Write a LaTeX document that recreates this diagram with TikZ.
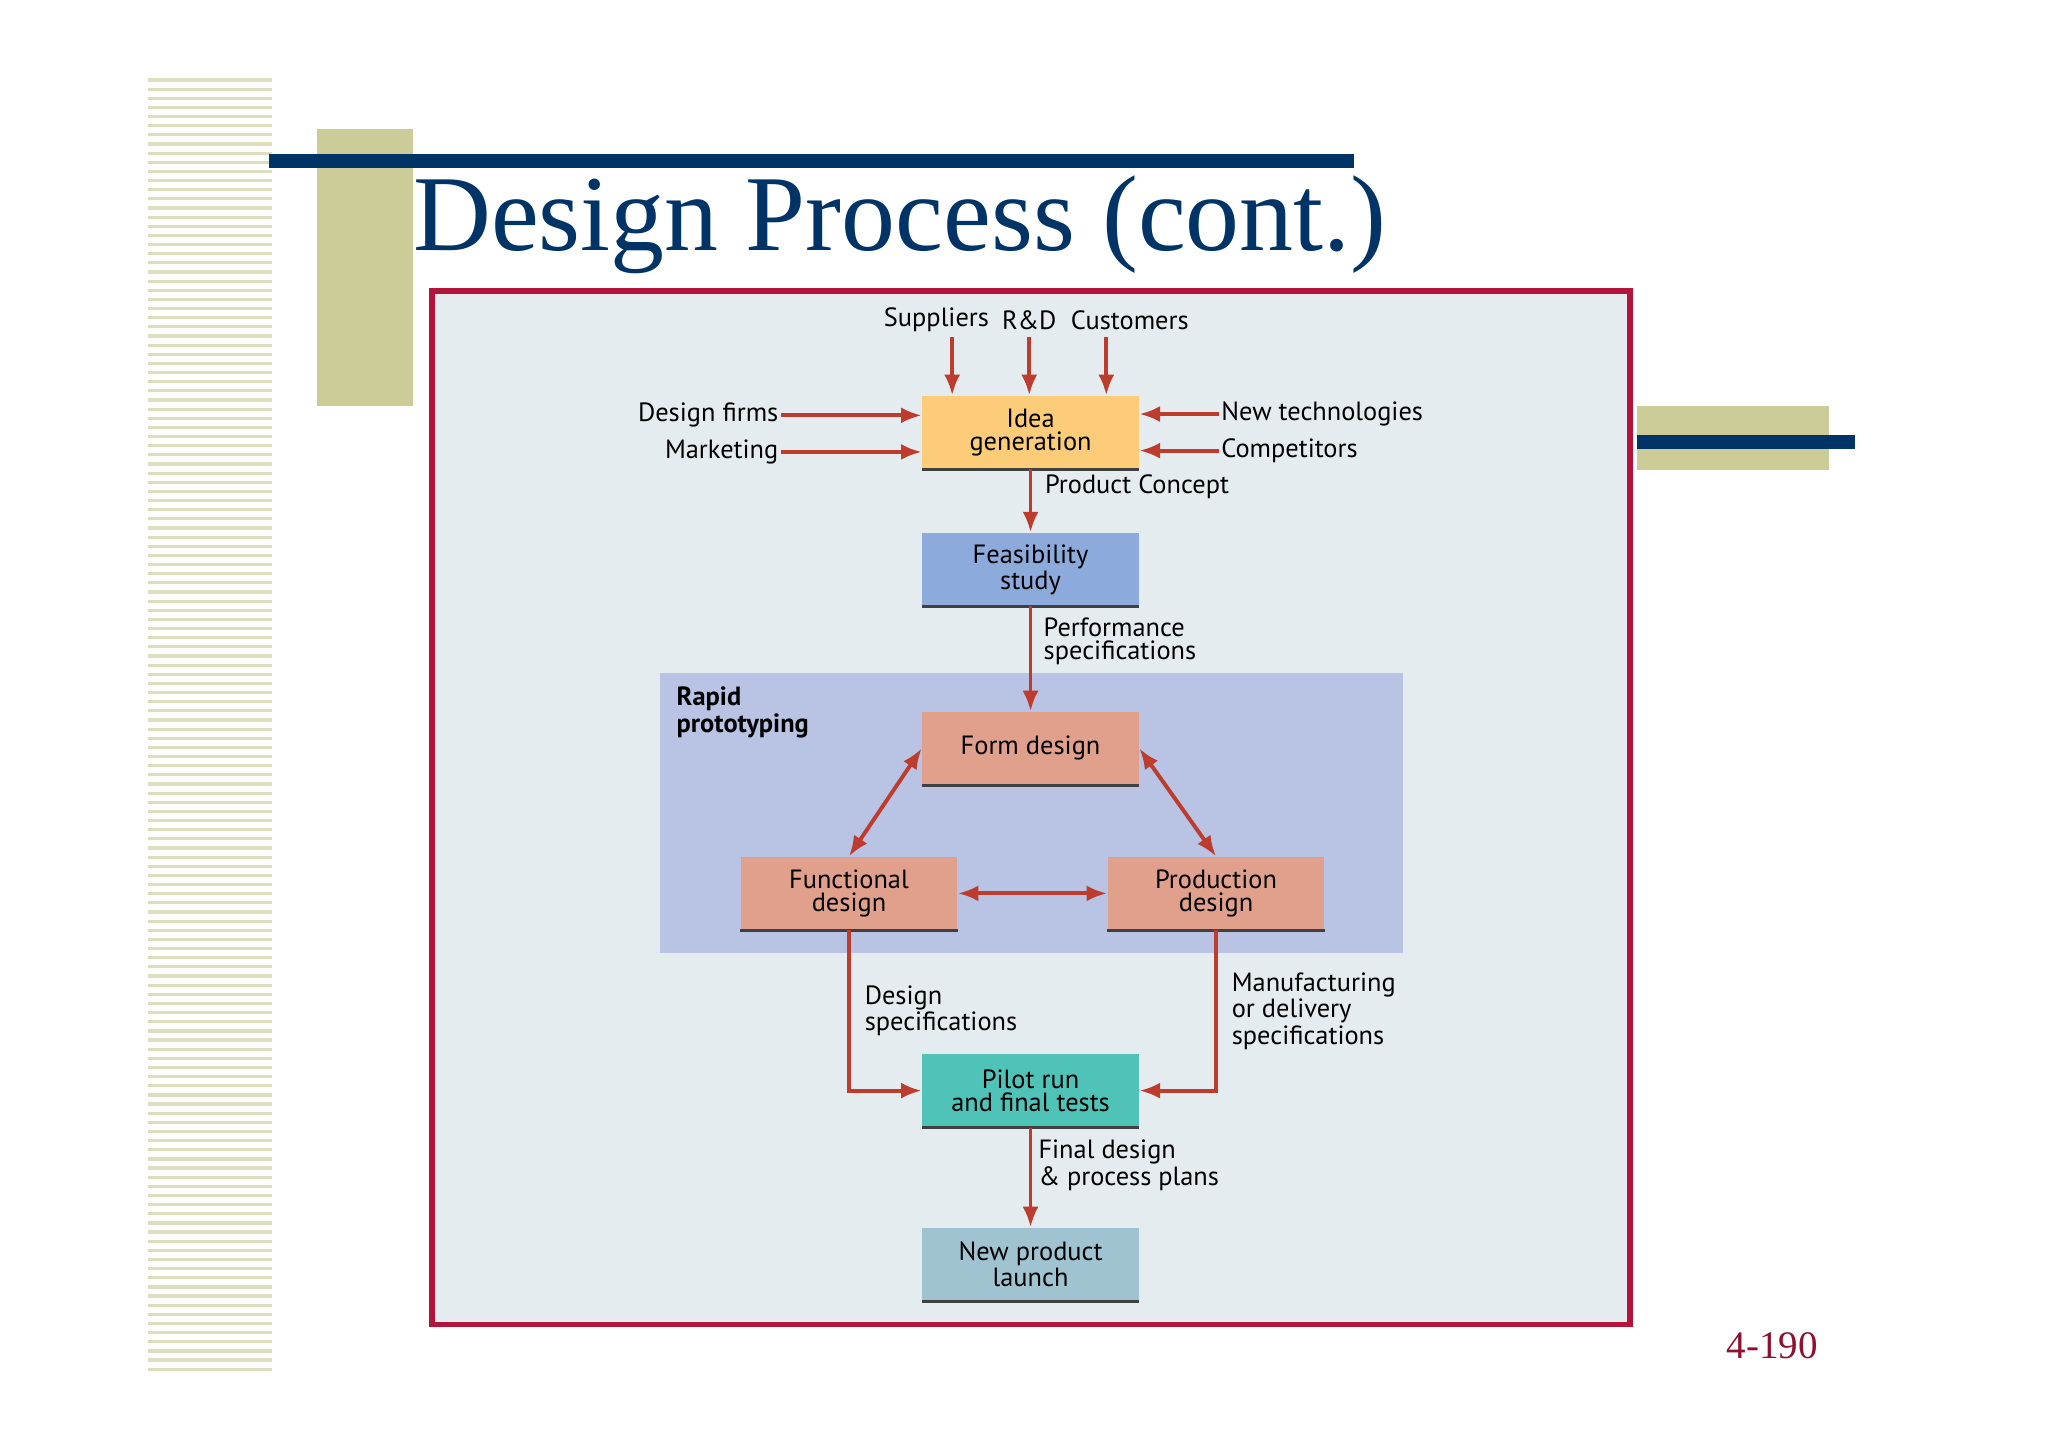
\documentclass[tikz,border=0pt]{standalone}
\usepackage{fontspec}
\setmainfont{Liberation Serif}
\newfontfamily\dsans{PT Sans}
\usetikzlibrary{arrows.meta}
\definecolor{navy}{RGB}{0,51,102}
\definecolor{khaki}{RGB}{204,204,153}
\definecolor{stripe}{RGB}{222,222,190}
\definecolor{frame}{RGB}{180,20,60}
\definecolor{panel}{RGB}{228,236,240}
\definecolor{rapid}{RGB}{185,195,228}
\definecolor{arr}{RGB}{190,60,45}
\definecolor{cidea}{RGB}{253,204,120}
\definecolor{cfeas}{RGB}{140,170,220}
\definecolor{cform}{RGB}{225,160,140}
\definecolor{cpilot}{RGB}{80,195,185}
\definecolor{cnew}{RGB}{160,195,210}
\begin{document}
\begin{tikzpicture}[x=0.02cm,y=-0.02cm,
  box/.style={minimum width=3.32cm,minimum height=1.12cm,inner sep=0pt,align=center,font=\dsans\fontsize{11.5}{10}\selectfont},
  lbl/.style={font=\dsans\fontsize{11.5}{10}\selectfont,inner sep=1pt,align=left},
  ar/.style={draw=arr,line width=1.7pt,-{Latex[length=9pt,width=7pt]}},
  dar/.style={draw=arr,line width=1.7pt,{Latex[length=9pt,width=7pt]}-{Latex[length=9pt,width=7pt]}}]
\useasboundingbox (0,0) rectangle (1568,1108);
\fill[white] (0,0) rectangle (1568,1108);
\foreach \y in {60,67,...,1047} \fill[stripe] (113,\y) rectangle (208,\y+2.5);
\fill[khaki] (243,99) rectangle (316,311);
\fill[navy] (206,118) rectangle (1037,129);
\node[anchor=base west,inner sep=0,text=navy,font=\fontsize{47}{47}\selectfont] (title) at (316,192) {Design Process (cont.)};
\fill[khaki] (1253,311) rectangle (1400,360);
\fill[navy] (1253,333) rectangle (1420,344);
\node[anchor=base,text=frame!80!black,font=\fontsize{17}{17}\selectfont] (pg) at (1357,1040) {4-190};
\draw[frame,line width=2.5pt,fill=panel] (331,223) rectangle (1248,1014);
\fill[rapid] (505,515) rectangle (1074,730);
\node[lbl,anchor=north west,font=\dsans\bfseries\fontsize{11.5}{10}\selectfont] (rp) at (516,524) {Rapid\\prototyping};
\node[box,fill=cidea] (idea) at (789,331) {Idea\\generation};
\node[box,fill=cfeas] (feas) at (789,436) {Feasibility\\study};
\node[box,fill=cform] (form) at (789,573) {Form design};
\node[box,fill=cform] (func) at (650,684) {Functional\\design};
\node[box,fill=cform] (prod) at (931,684) {Production\\design};
\node[box,fill=cpilot] (pilot) at (789,835) {Pilot run\\and final tests};
\node[box,fill=cnew] (launch) at (789,968) {New product\\launch};
\foreach \n in {idea,feas,form,func,prod,pilot,launch}
  \draw[black!75,line width=1.2pt] (\n.south west) -- (\n.south east);
\node[lbl] (sup) at (717,245) {Suppliers};
\node[lbl] (rd) at (788,245) {R\&D};
\node[lbl] (cus) at (865,245) {Customers};
\coordinate (ra) at (729,258);\coordinate (rb) at (788,258);\coordinate (rc) at (847,258);
\draw[ar] (ra) -- (ra|-idea.north);
\draw[ar] (rb) -- (rb|-idea.north);
\draw[ar] (rc) -- (rc|-idea.north);
\node[lbl,anchor=east] (df) at (598,318) {Design firms};
\node[lbl,anchor=east] (mk) at (598,346) {Marketing};
\node[lbl,anchor=west] (nt) at (933,317) {New technologies};
\node[lbl,anchor=west] (cp) at (933,345) {Competitors};
\draw[ar] (df.east) -- (df.east-|idea.west);
\draw[ar] (mk.east) -- (mk.east-|idea.west);
\draw[ar] (nt.west) -- (nt.west-|idea.east);
\draw[ar] (cp.west) -- (cp.west-|idea.east);
\draw[ar] (idea) -- (feas);
\node[lbl,anchor=west] (pc) at (798,373) {Product Concept};
\draw[ar] (feas) -- (form);
\node[lbl,anchor=west] (ps) at (797,491) {Performance\\specifications};
\draw[dar] (form.west) -- (func.north);
\draw[dar] (form.east) -- (prod.north);
\draw[dar] (func) -- (prod);
\draw[ar] (func.south) |- (pilot.west);
\draw[ar] (prod.south) |- (pilot.east);
\node[lbl,anchor=west] (ds) at (660,774) {Design\\specifications};
\node[lbl,anchor=west] (ms) at (941,774) {Manufacturing\\or delivery\\specifications};
\draw[ar] (pilot) -- (launch);
\node[lbl,anchor=west] (fd) at (793,892) {Final design\\\& process plans};
\end{tikzpicture}
\end{document}
